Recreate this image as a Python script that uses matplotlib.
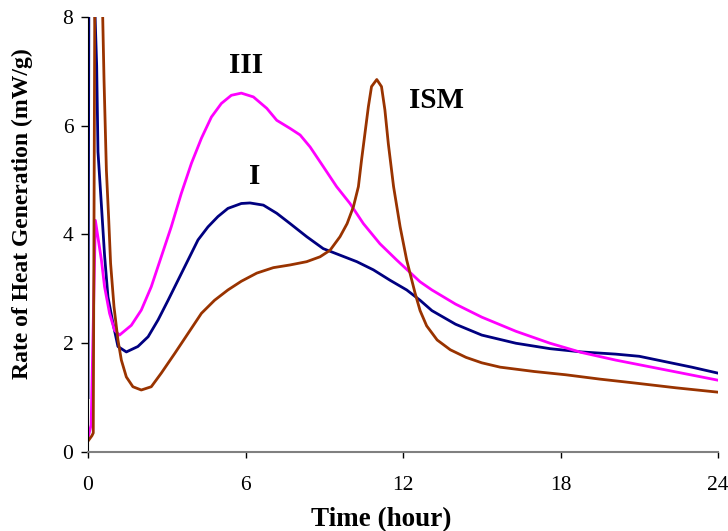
import matplotlib

matplotlib.use("Agg")
import matplotlib.pyplot as plt

# values (hours, mW/g)
time_i = [0, 0.04, 0.27, 0.33, 0.38, 0.51, 0.63, 0.76, 0.95, 1.14, 1.46, 1.9, 2.29, 2.67,
          3.05, 3.43, 3.81, 4.19, 4.57, 4.95, 5.33, 5.84, 6.17, 6.68, 7.19, 7.7, 8.33, 8.96,
          9.6, 10.24, 10.87, 11.5, 12.14, 12.65, 13.1, 14.0, 15.0, 16.3, 17.6, 18.8, 20.1,
          21.0, 22.0, 23.0, 24.0]
rate_i = [1.0, 10.0, 8.0, 7.1, 5.52, 4.54, 3.62, 2.85, 2.37, 1.94, 1.84, 1.94, 2.12, 2.43,
          2.79, 3.16, 3.53, 3.9, 4.14, 4.33, 4.48, 4.57, 4.58, 4.54, 4.39, 4.2, 3.96, 3.74,
          3.62, 3.5, 3.35, 3.16, 2.98, 2.79, 2.6, 2.35, 2.15, 2.0, 1.9, 1.84, 1.8,
          1.76, 1.66, 1.56, 1.45]

time_iii = [0.02, 0.12, 0.28, 0.51, 0.63, 0.82, 1.01, 1.2, 1.65, 2.03, 2.41, 2.79, 3.17,
            3.55, 3.94, 4.32, 4.7, 5.08, 5.46, 5.84, 6.3, 6.81, 7.19, 7.7, 8.08, 8.46, 8.96,
            9.47, 9.98, 10.49, 11.12, 11.76, 12.65, 13.1, 14.0, 15.0, 16.3, 17.6, 18.8,
            20.1, 22.0, 24.0]
rate_iii = [0.3, 0.5, 4.26, 3.53, 3.04, 2.55, 2.24, 2.15, 2.33, 2.61, 3.04, 3.59, 4.14,
            4.75, 5.31, 5.77, 6.16, 6.41, 6.56, 6.6, 6.53, 6.32, 6.1, 5.95, 5.83, 5.61, 5.25,
            4.88, 4.57, 4.2, 3.83, 3.53, 3.13, 2.98, 2.72, 2.48, 2.22, 2.0, 1.83,
            1.69, 1.51, 1.32]

time_ism = [0, 0.15, 0.2, 0.3, 0.61, 0.7, 0.79, 0.86, 0.99, 1.14, 1.27, 1.46, 1.71, 2.03,
            2.41, 2.79, 3.3, 3.81, 4.32, 4.82, 5.33, 5.84, 6.43, 7.06, 7.7, 8.33, 8.84, 9.22,
            9.6, 9.87, 10.11, 10.3, 10.42, 10.55, 10.68, 10.8, 11.0, 11.18, 11.31, 11.44,
            11.64, 11.89, 12.14, 12.46, 12.65, 12.9, 13.3, 13.8, 14.4, 15.0, 15.7, 17.0,
            18.2, 19.5, 20.8, 22.4, 24.0]
rate_ism = [0.2, 0.3, 0.35, 14.0, 6.84, 5.18, 4.26, 3.47, 2.67, 2.06, 1.69, 1.38, 1.2, 1.14,
            1.2, 1.45, 1.81, 2.18, 2.55, 2.79, 2.98, 3.14, 3.29, 3.39, 3.44, 3.5, 3.59, 3.71,
            3.96, 4.2, 4.51, 4.88, 5.37, 5.86, 6.35, 6.72, 6.85, 6.72, 6.29, 5.67,
            4.88, 4.14, 3.53, 2.92, 2.6, 2.32, 2.06, 1.88, 1.74, 1.64, 1.56, 1.48,
            1.42, 1.34, 1.27, 1.18, 1.10]

x_ticks = [0, 6, 12, 18, 24]
y_ticks = [0, 2, 4, 6, 8]

SERIF = ["Liberation Serif", "DejaVu Serif"]

fig = plt.figure(figsize=(7.28, 5.31), dpi=100)
ax = fig.add_axes([0.1209, 0.1488, 0.8654, 0.8192])

ax.plot(time_i, rate_i, color="#000080", lw=2.0)
ax.plot(time_iii, rate_iii, color="#ff00ff", lw=2.0)
ax.plot(time_ism, rate_ism, color="#993300", lw=2.0)

ax.set_xlim(0, 24)
ax.set_ylim(0, 8)
ax.set_xticks(x_ticks)
ax.set_yticks(y_ticks)

for side in ("top", "right"):
    ax.spines[side].set_visible(False)
ax.spines["left"].set_color("black")
ax.spines["bottom"].set_color("#808080")
ax.spines["bottom"].set_linewidth(1.5)

ax.tick_params(axis="y", direction="out", length=5, width=1, pad=5.5)
ax.tick_params(axis="x", direction="out", length=4.5, width=1, pad=13)
for lab in ax.get_xticklabels() + ax.get_yticklabels():
    lab.set_family(SERIF)
    lab.set_fontsize(15.5)

ax.set_xlabel("Time (hour)", family=SERIF, fontsize=19.5, fontweight="bold", va="top")
ax.set_ylabel("Rate of Heat Generation (mW/g)", family=SERIF, fontsize=17, fontweight="bold")
ax.xaxis.set_label_coords(0.465, -0.126)
ax.yaxis.set_label_coords(-0.0873, 0.547)

for txt, x, y in [("III", 6.02, 7.1), ("I", 6.36, 5.06), ("ISM", 13.26, 6.47)]:
    ax.text(x, y, txt, family=SERIF, fontsize=21, fontweight="bold",
            ha="center", va="center")

fig.savefig("out.png", dpi=100)
